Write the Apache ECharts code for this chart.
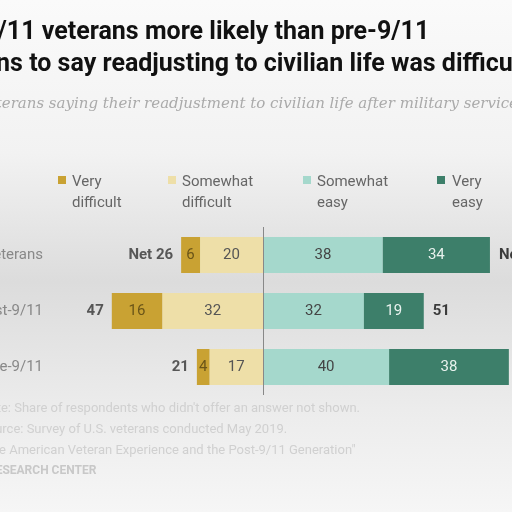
<!DOCTYPE html>
<html><head><meta charset="utf-8">
<script src="https://cdn.jsdelivr.net/npm/echarts@6/dist/echarts.min.js"></script>
<style>html,body{margin:0;padding:0}#c{width:512px;height:512px}</style>
</head><body><div id="c"></div>
<script>
const categories = ['All veterans', 'Post-9/11', 'Pre-9/11'];
const veryDifficult = [6, 16, 4];
const somewhatDifficult = [20, 32, 17];
const somewhatEasy = [38, 32, 40];
const veryEasy = [34, 19, 38];
const netDifficult = ['Net 26', '47', '21'];
const netEasy = ['Net 72', '51', '78'];

const chart = echarts.init(document.getElementById('c'));
const lbl = (c) => ({show: true, color: c, fontSize: 15, fontFamily: 'Roboto', formatter: p => Math.abs(p.value)});
chart.setOption({
  backgroundColor: {type: 'linear', x: 0, y: 0, x2: 0, y2: 1, colorStops: [
    {offset: 0, color: '#fafafa'}, {offset: 0.3, color: '#f2f2f2'}, {offset: 0.55, color: '#dcdcdc'},
    {offset: 0.8, color: '#ececec'}, {offset: 1, color: '#f6f6f6'}]},
  animation: false,
  grid: {left: 45, right: 0, top: 227, height: 168, containLabel: false, outerBoundsMode: 'none'},
  xAxis: {type: 'value', min: -69.2, max: 79, show: false},
  yAxis: {type: 'category', data: categories, inverse: true,
    axisLine: {show: false}, axisTick: {show: false},
    axisLabel: {margin: 2, color: '#888', fontSize: 15, fontFamily: 'Roboto'}},
  series: [
    {name: 'Somewhat difficult', type: 'bar', stack: 's', barWidth: 36, data: somewhatDifficult.map(v => -v),
      itemStyle: {color: '#eedfa8'}, label: lbl('#555')},
    {name: 'Very difficult', type: 'bar', stack: 's', data: veryDifficult.map(v => -v),
      itemStyle: {color: '#c9a233'}, label: lbl('#6b5518')},
    {name: 'Somewhat easy', type: 'bar', stack: 's', data: somewhatEasy,
      itemStyle: {color: '#a5d8cc'}, label: lbl('#444'),
      markLine: {symbol: 'none', silent: true, label: {show: false},
        lineStyle: {color: '#888', width: 1, type: 'solid'}, data: [{xAxis: 0}]}},
    {name: 'Very easy', type: 'bar', stack: 's', data: veryEasy,
      itemStyle: {color: '#3d7f6a'}, label: lbl('#e8f2ee')},
    {type: 'scatter', symbolSize: 0, data: categories.map((c, i) => [-(veryDifficult[i] + somewhatDifficult[i]), c]),
      label: {show: true, position: 'left', distance: 8, fontWeight: 'bold', fontSize: 15, color: '#333', fontFamily: 'Roboto',
        formatter: p => netDifficult[p.dataIndex]}},
    {type: 'scatter', symbolSize: 0, data: categories.map((c, i) => [somewhatEasy[i] + veryEasy[i], c]),
      label: {show: true, position: 'right', distance: 9, fontWeight: 'bold', fontSize: 15, color: '#111', fontFamily: 'Roboto',
        formatter: p => netEasy[p.dataIndex]}}
  ],
  graphic: [
    {type: 'text', left: -78, top: 20, style: {text: 'Post-9/11 veterans more likely than pre-9/11', font: 'bold 25px Roboto', fill: '#111'}},
    {type: 'text', left: -74, top: 52, style: {text: 'veterans to say readjusting to civilian life was difficult', font: 'bold 25px Roboto', fill: '#111'}},
    {type: 'text', left: -60, top: 97, style: {text: '% of veterans saying their readjustment to civilian life after military service was ...', font: 'italic 15px "DejaVu Serif"', fill: '#aaa'}},
    {type: 'rect', shape: {x: 58, y: 176, width: 8, height: 8}, style: {fill: '#c9a233'}},
    {type: 'text', left: 72, top: 172, style: {text: 'Very\ndifficult', font: '15px Roboto', fill: '#666', lineHeight: 21}},
    {type: 'rect', shape: {x: 168, y: 176, width: 8, height: 8}, style: {fill: '#eedfa8'}},
    {type: 'text', left: 182, top: 172, style: {text: 'Somewhat\ndifficult', font: '15px Roboto', fill: '#666', lineHeight: 21}},
    {type: 'rect', shape: {x: 303, y: 176, width: 8, height: 8}, style: {fill: '#a5d8cc'}},
    {type: 'text', left: 317, top: 172, style: {text: 'Somewhat\neasy', font: '15px Roboto', fill: '#666', lineHeight: 21}},
    {type: 'rect', shape: {x: 437, y: 176, width: 8, height: 8}, style: {fill: '#3d7f6a'}},
    {type: 'text', left: 452, top: 172, style: {text: 'Very\neasy', font: '15px Roboto', fill: '#666', lineHeight: 21}},
    {type: 'text', left: -20, top: 398, style: {text: 'Note: Share of respondents who didn\'t offer an answer not shown.\nSource: Survey of U.S. veterans conducted May 2019.\n"The American Veteran Experience and the Post-9/11 Generation"', font: '13px Roboto', fill: '#d0d0d0', lineHeight: 21}},
    {type: 'text', left: -40, top: 465, style: {text: 'PEW RESEARCH CENTER', font: 'bold 12px Roboto', fill: '#c8c8c8'}}
  ]
});
</script></body></html>
